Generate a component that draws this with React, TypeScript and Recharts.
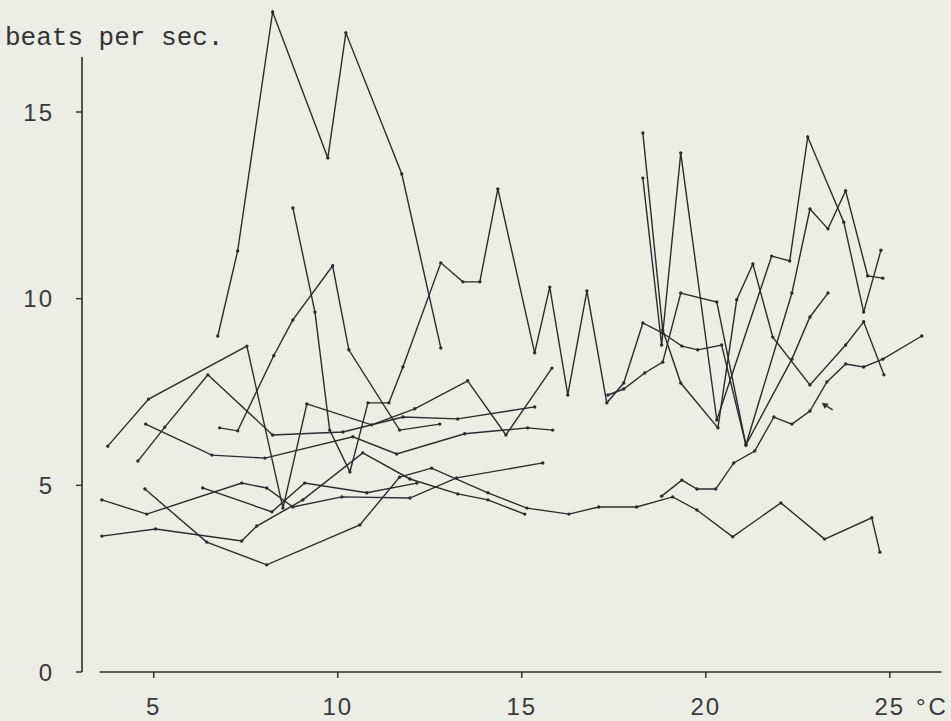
import { Line, LineChart, ReferenceDot, ReferenceLine, XAxis, YAxis } from "recharts";

// heart rate (beats per sec.) against temperature (°C), one trace per recording
// pairs are [temperature, beats per sec.]
const traceA = [[6.74, 9.0], [7.28, 11.28], [8.23, 17.68], [9.73, 13.77], [10.22, 17.12], [11.74, 13.34], [12.8, 8.68]];
const traceB = [
  [8.78, 12.43], [9.38, 9.64], [9.78, 6.48], [10.33, 5.36], [10.82, 7.21], [11.39, 7.21], [11.77, 8.17],
  [12.8, 10.96], [13.4, 10.45], [13.86, 10.45], [14.35, 12.94], [15.35, 8.55], [15.76, 10.31], [16.25, 7.42],
  [16.77, 10.21], [17.31, 7.21], [17.77, 7.74], [18.29, 9.35], [18.83, 9.08], [19.35, 8.73], [19.78, 8.63],
  [20.43, 8.76], [21.09, 6.08], [22.34, 10.15], [22.83, 12.4], [23.32, 11.87], [23.8, 12.89], [24.4, 10.61],
  [24.81, 10.55],
];
const traceC = [[3.75, 6.05], [4.86, 7.31], [7.53, 8.73], [8.51, 4.39], [9.16, 7.18], [10.92, 6.62], [12.09, 7.05], [13.53, 7.8], [14.57, 6.35], [15.82, 8.14]];
const traceD = [[4.57, 5.65], [5.3, 6.56], [6.47, 7.96], [8.23, 6.35], [10.14, 6.43], [11.77, 6.83], [13.26, 6.78], [15.35, 7.1]];
const traceE = [[3.59, 4.61], [4.81, 4.23], [7.39, 5.06], [8.07, 4.93], [8.78, 4.42], [10.11, 4.69], [11.96, 4.66], [13.23, 5.2], [15.57, 5.6]];
const traceF = [[6.33, 4.93], [8.21, 4.29], [9.1, 5.06], [10.79, 4.8], [12.15, 5.06]];
const traceG = [[4.78, 6.64], [6.58, 5.81], [8.02, 5.73], [10.41, 6.3], [11.6, 5.84], [13.45, 6.38], [15.16, 6.54], [15.84, 6.48]];
const traceH = [[6.79, 6.54], [7.28, 6.46], [8.26, 8.47], [8.78, 9.43], [9.86, 10.88], [10.3, 8.63], [11.68, 6.48], [12.77, 6.64]];
const traceK = [
  [4.76, 4.9], [6.44, 3.48], [8.07, 2.87], [10.6, 3.94], [11.68, 5.22], [12.55, 5.46], [14.08, 4.8], [15.14, 4.39],
  [16.28, 4.23], [17.09, 4.42], [18.12, 4.42], [19.1, 4.69], [19.76, 4.34], [20.73, 3.62], [22.04, 4.53],
  [23.23, 3.56], [24.51, 4.13], [24.73, 3.21],
];
const traceL = [[3.59, 3.64], [5.05, 3.83], [7.39, 3.51], [7.8, 3.91], [9.05, 4.61], [10.68, 5.87], [11.96, 5.17], [13.26, 4.77], [14.08, 4.61], [15.08, 4.23]];
const traceW = [
  [18.8, 4.71], [19.35, 5.14], [19.76, 4.9], [20.27, 4.9], [20.76, 5.6], [21.33, 5.92], [21.85, 6.83],
  [22.34, 6.64], [22.83, 6.99], [23.29, 7.77], [23.8, 8.25], [24.29, 8.17], [24.81, 8.38], [25.87, 9.0],
];
const traceV1 = [[18.29, 14.44], [18.83, 9.16], [19.32, 7.74], [20.33, 6.54], [20.84, 9.97], [21.28, 10.93], [21.82, 8.97], [22.83, 7.69], [23.8, 8.76], [24.29, 9.38], [24.84, 7.96]];
const traceV2 = [[18.29, 13.23], [18.8, 8.76], [19.32, 13.9], [20.3, 6.75], [21.79, 11.14], [22.28, 11.01], [22.77, 14.33], [23.75, 12.05], [24.29, 9.64], [24.76, 11.3]];
const traceU = [[17.34, 7.42], [17.77, 7.58], [18.34, 8.01], [18.83, 8.3], [19.32, 10.15], [20.3, 9.91], [21.09, 6.08], [22.34, 8.38], [22.83, 9.51], [23.32, 10.15]];

const traces = [traceA, traceB, traceC, traceD, traceE, traceF, traceG, traceH, traceK, traceL, traceW, traceV1, traceV2, traceU];

const xTicks = [5, 10, 15, 20, 25];
const yTicks = [0, 5, 10, 15];
const arrowAt = { t: 23.15, v: 7.21 };

const INK = "#2c2c2c";
const NUM_FONT = { fontFamily: "Liberation Sans, Arial, sans-serif", fontSize: 24, fill: "#3a3a3a", letterSpacing: 2 };

function YTitle() {
  return (
    <text x={5} y={45} fontFamily="Liberation Mono, Courier New, monospace" fontSize={26} fill="#333">
      beats per sec.
    </text>
  );
}

function XUnit() {
  return (
    <text x={916} y={715} fontFamily="Liberation Sans, Arial, sans-serif" fontSize={24} fill="#3a3a3a" letterSpacing={3}>
      °C
    </text>
  );
}

function Arrow({ cx, cy }: { cx?: number; cy?: number }) {
  if (cx == null || cy == null) return null;
  return (
    <g>
      <line x1={cx + 3} y1={cy + 2} x2={cx + 11} y2={cy + 7} stroke={INK} strokeWidth={1.4} />
      <path d={`M${cx},${cy} L${cx + 7},${cy + 1} L${cx + 3},${cy + 6} Z`} fill={INK} />
    </g>
  );
}

export default function App() {
  return (
    <div style={{ position: "absolute", left: 0, top: 0, width: 951, height: 721, background: "#ecede7" }}>
      <LineChart width={951} height={721} margin={{ top: 0, right: 6, bottom: 0, left: 0 }}>
        <XAxis
          type="number"
          dataKey="t"
          domain={[3.05, 26.5]}
          ticks={xTicks}
          allowDataOverflow
          axisLine={false}
          tickLine={{ stroke: INK, strokeWidth: 1.4 }}
          tickSize={6}
          tickMargin={20}
          height={49}
          tick={NUM_FONT}
          label={<XUnit />}
        />
        <YAxis
          type="number"
          dataKey="v"
          domain={[0, 18]}
          ticks={yTicks}
          allowDataOverflow
          axisLine={false}
          tickLine={{ stroke: INK, strokeWidth: 1.4 }}
          tickSize={6}
          tickMargin={22}
          width={82}
          tick={NUM_FONT}
          label={<YTitle />}
        />
        <ReferenceLine segment={[{ x: 3.05, y: 0 }, { x: 3.05, y: 16.47 }]} stroke={INK} strokeWidth={1.6} ifOverflow="visible" />
        <ReferenceLine segment={[{ x: 3.53, y: 0 }, { x: 26.4, y: 0 }]} stroke={INK} strokeWidth={1.6} ifOverflow="visible" />
        {traces.map((trace, i) => (
          <Line
            key={i}
            data={trace.map(([t, v]) => ({ t, v }))}
            dataKey="v"
            type="linear"
            stroke={INK}
            strokeWidth={1.4}
            dot={{ r: 1.7, fill: INK, stroke: "none" }}
            activeDot={false}
            isAnimationActive={false}
          />
        ))}
        <ReferenceDot x={arrowAt.t} y={arrowAt.v} r={0} shape={<Arrow />} ifOverflow="visible" />
      </LineChart>
    </div>
  );
}
